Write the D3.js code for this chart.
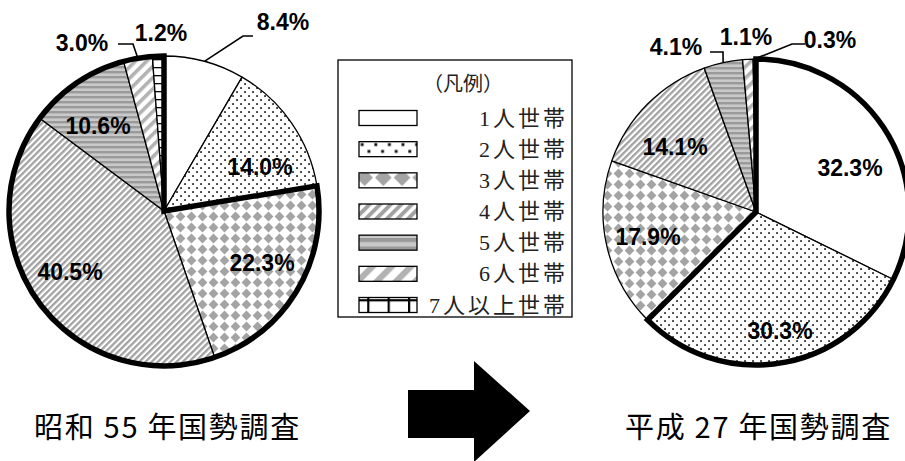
<!DOCTYPE html>
<html><head><meta charset="utf-8">
<script src="https://cdn.jsdelivr.net/npm/d3@7"></script>
<style>body{margin:0;background:#fff}svg{display:block}</style>
</head><body>
<svg id="c" width="905" height="461"></svg>
<script>
// ---- data ----
const categories = ["1人世帯","2人世帯","3人世帯","4人世帯","5人世帯","6人世帯","7人以上世帯"];
const legendTitle = "（凡例）";
const valuesS55 = [8.4, 14.0, 22.3, 40.5, 10.6, 3.0, 1.2];
const valuesH27 = [32.3, 30.3, 17.9, 14.1, 4.1, 1.1, 0.3];
const captionS55 = "昭和 55 年国勢調査";
const captionH27 = "平成 27 年国勢調査";
const highlightS55 = [2, 6];   // categories enclosed by the thick outline
const highlightH27 = [0, 1];

// ---- layout (separate from data) ----
const pies = [
  { values: valuesS55, caption: captionS55, hl: highlightS55, cx: 164, cy: 211, r: 155, capX: 34,
    labels: [
      { dx: 119, dy: -189, lead: [[79, -175], [89, -175]] },
      { dx: 96, dy: -44 },
      { dx: 98, dy: 52 },
      { dx: -94, dy: 61 },
      { dx: -66, dy: -85 },
      { dx: -82, dy: -168, lead: [[-31, -167], [-46, -167]] },
      { dx: -3, dy: -178 }
    ]},
  { values: valuesH27, caption: captionH27, hl: highlightH27, cx: 756, cy: 212, r: 153, capX: 625,
    labels: [
      { dx: 94, dy: -44 },
      { dx: 24, dy: 119 },
      { dx: -108, dy: 25 },
      { dx: -81, dy: -65 },
      { dx: -80, dy: -165, lead: [[-33, -160], [-46, -160]] },
      { dx: -10, dy: -175 },
      { dx: 74, dy: -172, lead: [[36, -168], [49, -168]] }
    ]}
];

const svg = d3.select("#c");
const defs = svg.append("defs");

function pat(id, w, h, transform, draw) {
  const p = defs.append("pattern").attr("id", id).attr("patternUnits", "userSpaceOnUse")
    .attr("width", w).attr("height", h).attr("patternTransform", transform);
  p.append("rect").attr("width", w).attr("height", h).attr("fill", "#fff");
  draw(p);
}
function makePatterns(sfx, k) {
  const s = `scale(${k})`;
  pat("p0" + sfx, 10, 10, s, () => {});
  pat("p1" + sfx, 8, 8, s, p => {
    p.append("rect").attr("x", 0.2).attr("y", 0.2).attr("width", 1.7).attr("height", 1.7).attr("fill", "#111");
    p.append("rect").attr("x", 4.2).attr("y", 4.2).attr("width", 1.7).attr("height", 1.7).attr("fill", "#111");
  });
  pat("p2" + sfx, 11, 11, s, p => {
    p.append("path").attr("d", "M5.5,0.6L10.4,5.5L5.5,10.4L0.6,5.5Z").attr("fill", "#a4a4a4");
  });
  pat("p3" + sfx, 4.4, 4.4, `rotate(45) ${s}`, p => {
    p.append("rect").attr("width", 2.3).attr("height", 4.4).attr("fill", "#a2a2a2");
  });
  pat("p4" + sfx, 5, 5, s, p => {
    p.append("rect").attr("width", 5).attr("height", 5).attr("fill", "#c9c9c9");
    p.append("rect").attr("width", 5).attr("height", 2.4).attr("fill", "#9a9a9a");
  });
  pat("p5" + sfx, 8, 8, `rotate(45) ${s}`, p => {
    p.append("rect").attr("width", 3.6).attr("height", 8).attr("fill", "#b2b2b2");
  });
  pat("p6" + sfx, 12, 8, s, p => {
    p.append("rect").attr("width", 12).attr("height", 1.3).attr("fill", "#000");
    p.append("rect").attr("width", 1.3).attr("height", 8).attr("fill", "#000");
  });
}
makePatterns("", 1);
makePatterns("L", 1.7);

const fmt = v => d3.format(".1f")(v) + "%";
const pieGen = d3.pie().sort(null).value(d => d).startAngle(0).endAngle(2 * Math.PI);

pies.forEach(P => {
  const g = svg.append("g").attr("transform", `translate(${P.cx},${P.cy})`);
  const arcs = pieGen(P.values);
  const arc = d3.arc().innerRadius(0).outerRadius(P.r);

  g.selectAll("path.slice").data(arcs).join("path").attr("class", "slice")
    .attr("d", arc)
    .attr("fill", (d, i) => `url(#p${i})`)
    .attr("stroke", "#000").attr("stroke-width", 1.3).attr("stroke-linejoin", "round");

  // thick outline around highlighted group
  const a0 = arcs[P.hl[0]].startAngle, a1 = arcs[P.hl[1]].endAngle;
  g.append("path")
    .attr("d", d3.arc().innerRadius(0).outerRadius(P.r)({ startAngle: a0, endAngle: a1 }))
    .attr("fill", "none").attr("stroke", "#000").attr("stroke-width", 5.5)
    .attr("stroke-linejoin", "miter").attr("stroke-miterlimit", 10);

  // leader lines
  arcs.forEach((d, i) => {
    const L = P.labels[i];
    if (!L.lead) return;
    const mid = (d.startAngle + d.endAngle) / 2;
    const st = [P.r * Math.sin(mid), -P.r * Math.cos(mid)];
    g.append("path").attr("d", d3.line()([st, L.lead[0], L.lead[1]]))
      .attr("fill", "none").attr("stroke", "#000").attr("stroke-width", 1.6);
  });

  // labels
  g.selectAll("text.lbl").data(arcs).join("text").attr("class", "lbl")
    .attr("x", (d, i) => P.labels[i].dx).attr("y", (d, i) => P.labels[i].dy)
    .attr("text-anchor", "middle").attr("dominant-baseline", "central")
    .attr("font-family", "'Liberation Sans', Arial, sans-serif").attr("font-weight", "bold")
    .attr("font-size", 23).attr("fill", "#000")
    .text(d => fmt(d.data));

  svg.append("text").attr("x", P.capX).attr("y", 425)
    .attr("dominant-baseline", "central")
    .attr("font-family", "'Noto Sans CJK JP', sans-serif").attr("font-size", 29)
    .attr("letter-spacing", 1.7).attr("fill", "#000")
    .text(P.caption);
});

// legend
const lg = svg.append("g");
lg.append("rect").attr("x", 338).attr("y", 60).attr("width", 234).attr("height", 257)
  .attr("fill", "#fff").attr("stroke", "#000").attr("stroke-width", 1.3);
lg.append("text").attr("x", 463).attr("y", 84).attr("text-anchor", "middle")
  .attr("dominant-baseline", "central")
  .attr("font-family", "'Liberation Serif', 'Noto Sans CJK JP', serif").attr("font-size", 20)
  .attr("fill", "#222").text(legendTitle);
const rowY = d3.scalePoint().domain(categories).range([118, 305]);
categories.forEach((c, i) => {
  lg.append("rect").attr("x", 359).attr("y", rowY(c) - 7.5).attr("width", 58).attr("height", 15)
    .attr("fill", `url(#p${i}L)`).attr("stroke", "#000").attr("stroke-width", 1.3);
  lg.append("text").attr("x", 568).attr("y", rowY(c)).attr("text-anchor", "end")
    .attr("dominant-baseline", "central")
    .attr("font-family", "'Liberation Serif', 'Noto Sans CJK JP', serif").attr("font-size", 22)
    .attr("letter-spacing", 3).attr("fill", "#222")
    .text(c);
});

// arrow
svg.append("path")
  .attr("d", d3.line()([[408, 390], [474, 390], [474, 361], [530, 411], [474, 462], [474, 438], [408, 438]]) + "Z")
  .attr("fill", "#000");
</script>
</body></html>
